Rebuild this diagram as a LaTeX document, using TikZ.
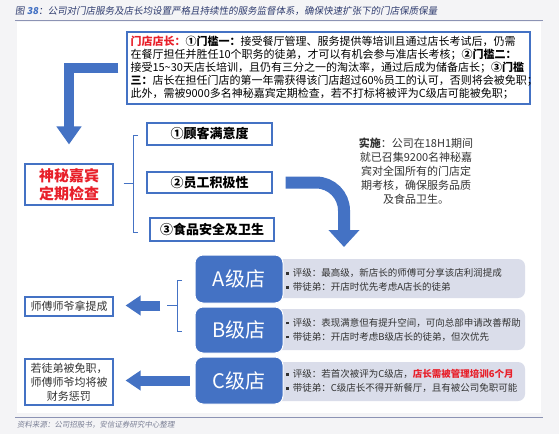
\documentclass[tikz,border=0pt]{standalone}
\usepackage{fontspec}
\setmainfont{Noto Sans CJK SC}
\newfontfamily\slfont[FakeSlant=0.15]{Noto Sans CJK SC}
\usetikzlibrary{arrows.meta}
\definecolor{mblue}{HTML}{4472C4}
\definecolor{panel}{HTML}{DADDEA}
\definecolor{pagebg}{HTML}{F4F4F6}
\definecolor{rulec}{HTML}{8C93B4}
\definecolor{titlec}{HTML}{2E3B6E}
\definecolor{mred}{HTML}{E8202A}
\definecolor{srcc}{HTML}{7A7F95}
\definecolor{txt}{HTML}{333333}
\newcommand{\sqb}{\rule[1.6pt]{2.6pt}{2.6pt}\hspace{4pt}}
\begin{document}
\begin{tikzpicture}[x=1pt,y=-1pt,
  box/.style={draw=mblue,line width=1.1pt,fill=white,inner sep=0pt,align=center},
  crit/.style={box,font=\fontsize{13}{15}\selectfont\bfseries,minimum width=125pt},
  grade/.style={fill=mblue,draw=white,line width=1pt,rounded corners=8pt,minimum width=88pt,
    text=white,font=\fontsize{20}{22}\selectfont},
  panelbox/.style={fill=panel,rounded corners=7pt},
  ptext/.style={anchor=west,align=left,text=txt,font=\fontsize{9.5}{14}\selectfont,inner sep=0pt},
  brk/.style={draw=mblue,line width=0.8pt},
  fatarrow/.style={draw=mblue,line width=10pt}]
\useasboundingbox (0,0) rectangle (559,434);
\fill[pagebg] (0,0) rectangle (559,434);
\fill[white] (17,22) rectangle (541,413);
\draw[rulec,line width=1pt] (15,20.5) -- (543,20.5);
\draw[rulec,line width=1pt] (15,417) -- (543,417);
\node[anchor=west,inner sep=0pt,text=titlec,font=\fontsize{9.5}{11}\selectfont] (title) at (15,11)
  {\slfont 图 {\bfseries\color{mblue}38}：公司对门店服务及店长均设置严格且持续性的服务监督体系，确保快速扩张下的门店保质保量};
\node[anchor=west,inner sep=0pt,text=srcc,font=\fontsize{7.5}{9}\selectfont] (src) at (17,425)
  {\slfont 资料来源：公司招股书，安信证券研究中心整理};

% top box
\node[box,minimum width=403pt,minimum height=72pt] (top) at (328.5,68)
  {\begin{minipage}{396pt}\fontsize{11}{13}\selectfont\raggedright
  {\color{mred}\bfseries 门店店长：}{\bfseries ①门槛一：}接受餐厅管理、服务提供等培训且通过店长考试后，仍需\\
  在餐厅担任并胜任10个职务的徒弟，才可以有机会参与准店长考核；{\bfseries ②门槛二：}\\
  接受15\textasciitilde30天店长培训，且仍有三分之一的淘汰率，通过后成为储备店长；{\bfseries ③门槛}\\
  {\bfseries 三：}店长在担任门店的第一年需获得该门店超过60\%员工的认可，否则将会被免职；\\
  此外，需被9000多名神秘嘉宾定期检查，若不打标将被评为C级店可能被免职；
  \end{minipage}};

% mystery guest box
\node[box,minimum width=88pt,minimum height=41pt,text=mred,font=\fontsize{15}{18}\selectfont\bfseries] (mys) at (69,184.5)
  {神秘嘉宾\\定期检查};
\draw[fatarrow,-{Triangle[length=18pt,width=24pt]}] ([xshift=-8pt]top.west) -| ([yshift=19pt]mys.north);

% criteria
\node[crit,minimum height=22pt] (cust) at (209.5,134) {①顾客满意度};
\node[crit,minimum height=21pt] (emp) at (209.5,182.5) {②员工积极性};
\node[crit,minimum width=124pt,minimum height=23pt] (food) at (212,229.5) {③食品安全及卫生};
\coordinate (brtick) at (123,183);
\draw[brk] ([xshift=10pt]mys.east |- brtick) -- (133,183);
\draw[brk] (138,135) -- (133,135) -- (133,232) -- (138,232);

% implementation text
\node[align=center,inner sep=0pt,text=txt,font=\fontsize{11}{14}\selectfont] (impl) at (416,171)
  {{\bfseries 实施}：公司在18H1期间\\就已召集9200名神秘嘉\\宾对全国所有的门店定\\期考核，确保服务品质\\及食品卫生。};
\coordinate (curveEnd) at (344,247);
\draw[draw=mblue,line width=12pt,rounded corners=28pt,-{Triangle[length=17pt,width=30pt]}]
  ([xshift=13pt]emp.east) -| (curveEnd);

% grade panels
\fill[panelbox] (270,259) rectangle (525,298);
\fill[panelbox] (270,309) rectangle (525,350);
\fill[panelbox] (270,362) rectangle (525,401);
\node[grade,minimum height=48pt] (ga) at (239,279) {A级店};
\node[grade,minimum height=46pt] (gb) at (239,330) {B级店};
\node[grade,minimum height=47pt] (gc) at (239,380.5) {C级店};
\node[ptext] (ta) at (286,279.5) {\sqb 评级：最高级，新店长的师傅可分享该店利润提成\\\sqb 带徒弟：开店时优先考虑A店长的徒弟};
\node[ptext] (tb) at (286,329.5) {\sqb 评级：表现满意但有提升空间，可向总部申请改善帮助\\\sqb 带徒弟：开店时考虑B级店长的徒弟，但次优先};
\node[ptext] (tc) at (286,381) {\sqb 评级：若首次被评为C级店，{\color{mred}\bfseries 店长需被管理培训6个月}\\\sqb 带徒弟：C级店长不得开新餐厅，且有被公司免职可能};

% left outcome boxes
\node[box,minimum width=88pt,minimum height=19pt,text=txt,font=\fontsize{11}{13}\selectfont] (tiba) at (69,306.5) {师傅师爷拿提成};
\node[box,minimum width=88pt,minimum height=46pt,text=txt,font=\fontsize{11}{14}\selectfont] (punish) at (69,382)
  {若徒弟被免职，\\师傅师爷均将被\\财务惩罚};

% A/B bracket and arrow
\coordinate (abtick) at (167,305.5);
\draw[brk] (abtick) -- (177,305.5);
\draw[brk] (182,280) -- (177,280) -- (177,331) -- (182,331);
\draw[fatarrow,shorten >=12pt,-{Triangle[length=15pt,width=19pt]}] ([xshift=-7pt]abtick) -- (abtick -| tiba.east);
% C arrow
\draw[fatarrow,shorten <=5pt,shorten >=12pt,-{Triangle[length=15pt,width=19pt]}] (gc.west) -- (gc.west -| punish.east);
\end{tikzpicture}
\end{document}
